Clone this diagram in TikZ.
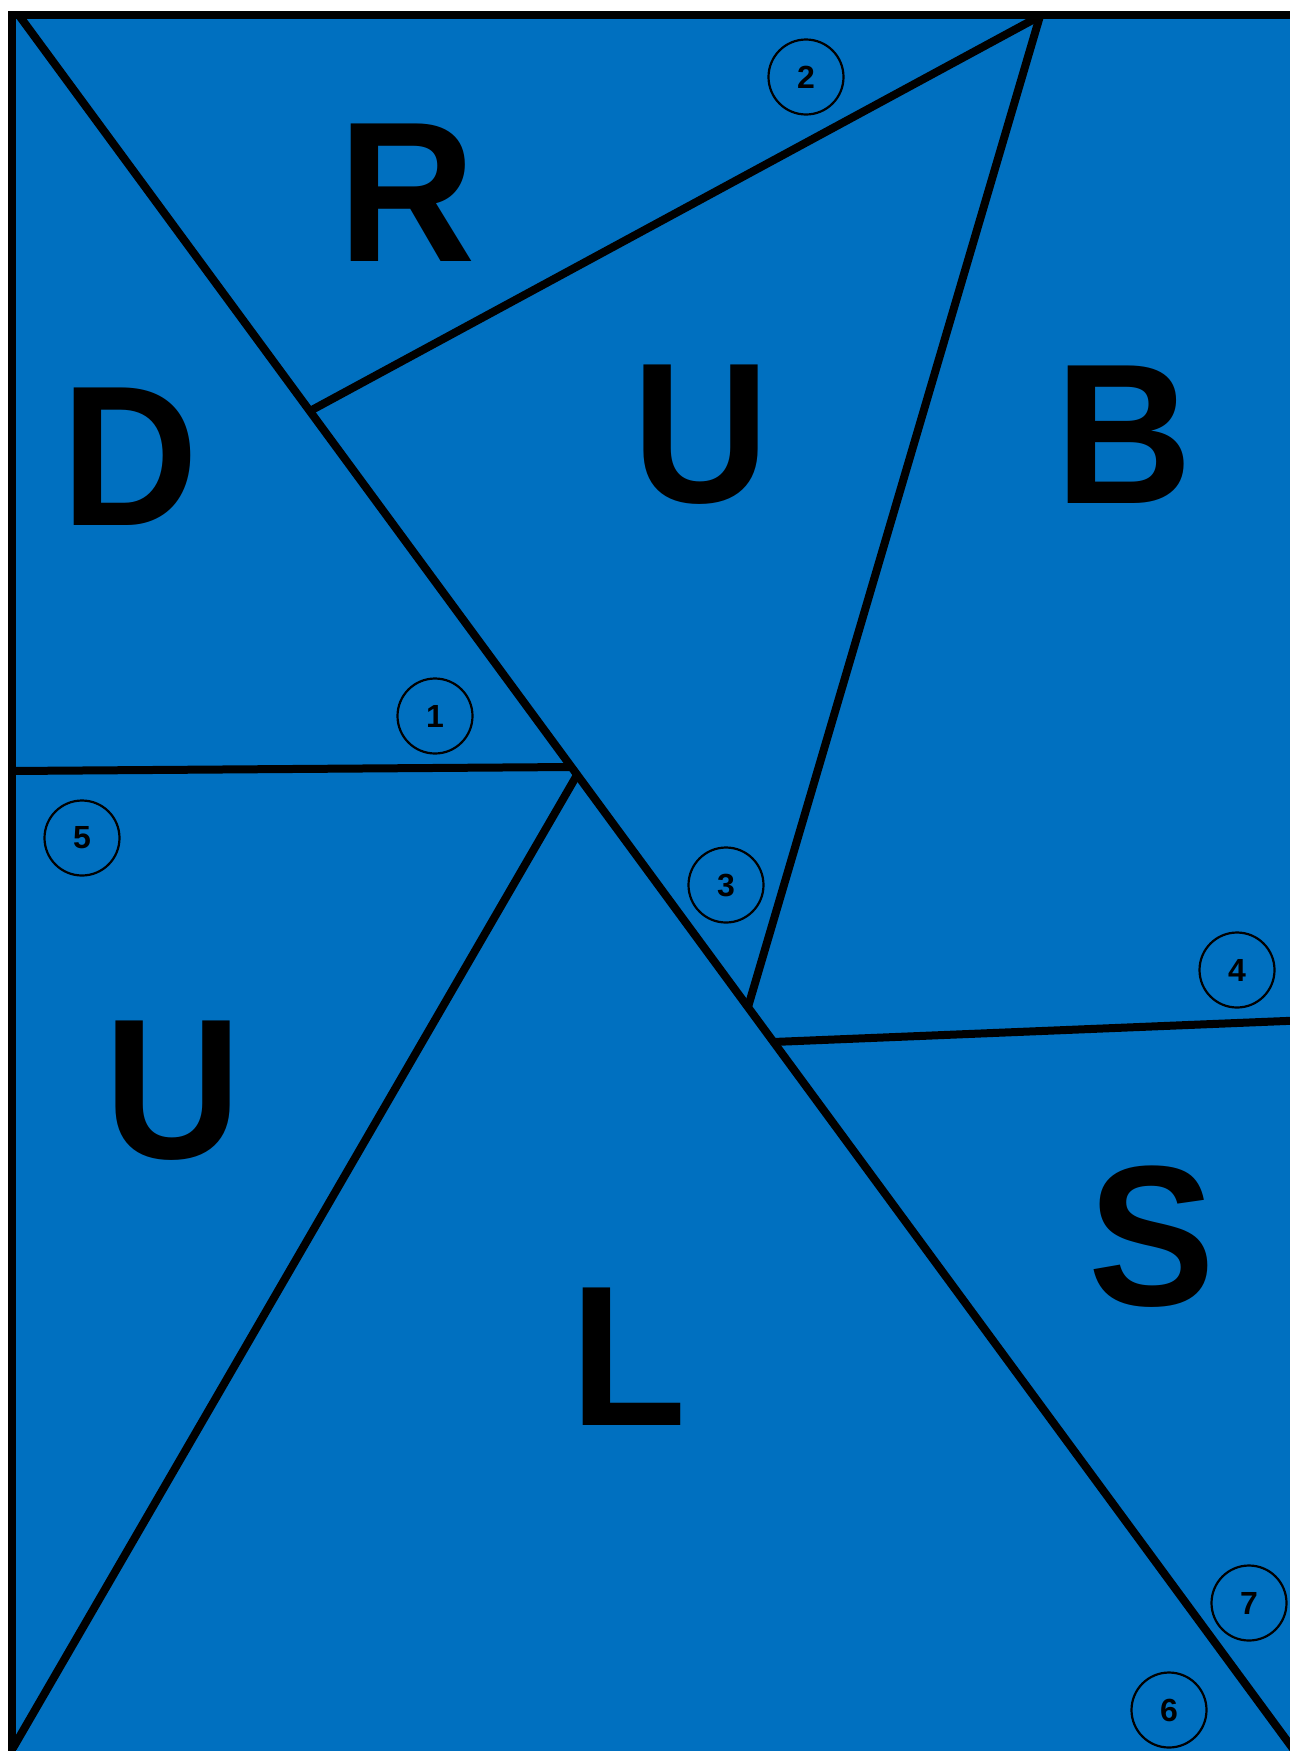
\documentclass[tikz,border=0pt]{standalone}
\usepackage{fontspec}
\setmainfont{Liberation Sans}
\definecolor{fillblue}{RGB}{0,112,192}
\begin{document}
\begin{tikzpicture}[x=0.5pt,y=-0.5pt,
  edge/.style={line width=4pt,black},
  big/.style={font=\fontsize{100}{100}\selectfont\bfseries,inner sep=0pt,anchor=center,xscale=0.95},
  num/.style={draw,circle,line width=1.1pt,minimum size=37.5pt,inner sep=0pt,font=\fontsize{16}{16}\selectfont\bfseries}]
\useasboundingbox (0,0) rectangle (1290,1751);
\clip (0,0) rectangle (1290,1751);
\fill[white] (0,0) rectangle (1290,1751);
% panel
\fill[fillblue] (12,15) rectangle (1320,1780);
% coordinates
\coordinate (D0) at (18,14);
\coordinate (D1) at (1302,1761);
\coordinate (A) at (310,411);
\coordinate (P) at (1040,16);
\coordinate (Q) at (748,1007);
\coordinate (H0) at (11,771);
\coordinate (H1) at (571,767);
\coordinate (J) at (577,775);
\coordinate (BL) at (13,1748);
\coordinate (S0) at (773,1042);
\coordinate (S1) at (1310,1020);
% lines
\draw[edge] (D0) -- (D1);
\draw[edge] (A) -- (P);
\draw[edge] (P) -- (Q);
\draw[edge] (H0) -- (H1);
\draw[edge] (J) -- (BL);
\draw[edge] (S0) -- (S1);
% border
\draw[edge] (12,1790) -- (12,15) -- (1320,15);
% letters
\node[big] (lR) at (407,193) {R};
\node[big] (lU1) at (701,435) {U};
\node[big] (lB) at (1124,435) {B};
\node[big] (lD) at (130,457) {D};
\node[big] (lU2) at (173,1091) {U};
\node[big] (lS) at (1152,1237) {S};
\node[big] (lL) at (629,1357) {L};
% numbered circles
\node[num] (c1) at (435,716) {1};
\node[num] (c2) at (806,77) {2};
\node[num] (c3) at (726,885) {3};
\node[num] (c4) at (1237,970) {4};
\node[num] (c5) at (82,838) {5};
\node[num] (c6) at (1169,1710) {6};
\node[num] (c7) at (1249,1603) {7};
\end{tikzpicture}
\end{document}
